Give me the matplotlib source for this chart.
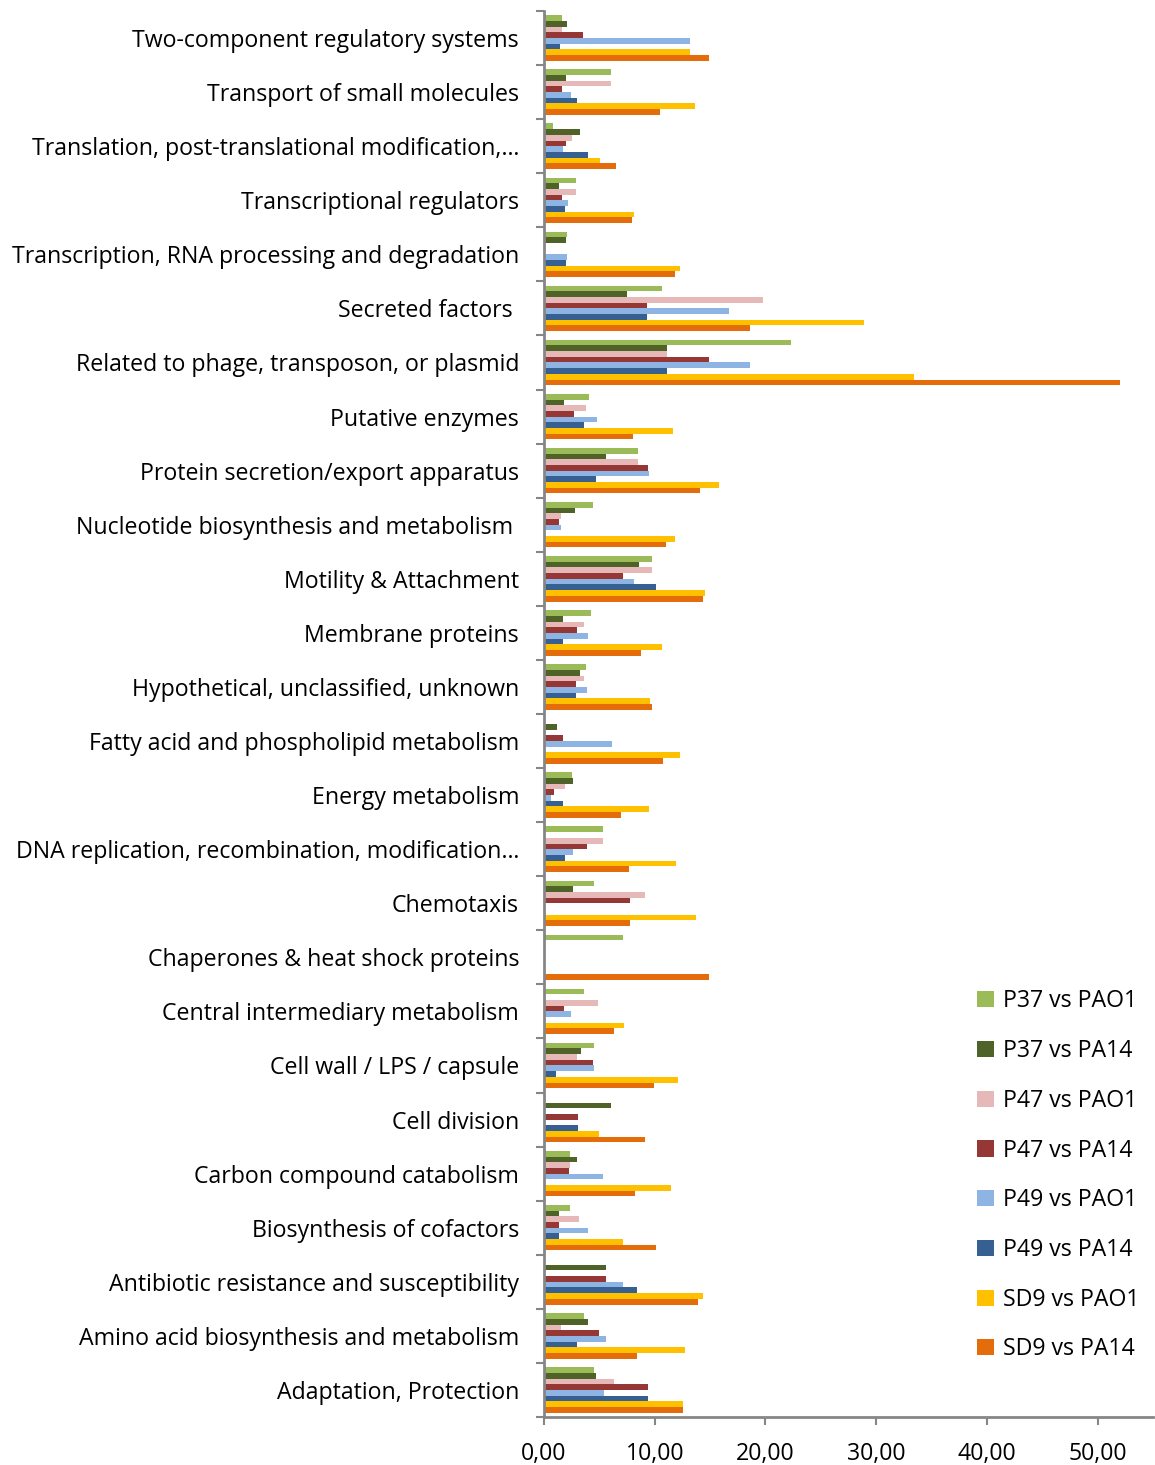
import numpy as np
import matplotlib
matplotlib.use('Agg')
import matplotlib.pyplot as plt
from matplotlib.patches import Patch

plt.rcParams['font.family'] = ['Open Sans', 'DejaVu Sans']

# categories listed bottom -> top (as drawn)
CATEGORIES = [
    'Adaptation, Protection',
    'Amino acid biosynthesis and metabolism',
    'Antibiotic resistance and susceptibility',
    'Biosynthesis of cofactors',
    'Carbon compound catabolism',
    'Cell division',
    'Cell wall / LPS / capsule',
    'Central intermediary metabolism',
    'Chaperones & heat shock proteins',
    'Chemotaxis',
    'DNA replication, recombination, modification\u2026',
    'Energy metabolism',
    'Fatty acid and phospholipid metabolism',
    'Hypothetical, unclassified, unknown',
    'Membrane proteins',
    'Motility & Attachment',
    'Nucleotide biosynthesis and metabolism ',
    'Protein secretion/export apparatus',
    'Putative enzymes',
    'Related to phage, transposon, or plasmid',
    'Secreted factors ',
    'Transcription, RNA processing and degradation',
    'Transcriptional regulators',
    'Translation, post-translational modification,\u2026',
    'Transport of small molecules',
    'Two-component regulatory systems',
]

SERIES = ['P37 vs PAO1', 'P37 vs PA14', 'P47 vs PAO1', 'P47 vs PA14',
          'P49 vs PAO1', 'P49 vs PA14', 'SD9 vs PAO1', 'SD9 vs PA14']

COLORS = ['#9BBB59', '#4F6228', '#E6B9B8', '#953735',
          '#8EB4E3', '#376092', '#FFC000', '#E46C0A']

# values per series, same order as CATEGORIES
p37_pao1 = [4.49, 3.58, 0.00, 2.38, 2.32, 0.00, 4.52, 3.64, 7.17, 4.55, 5.30, 2.56, 0.00,
            3.79, 4.28, 9.73, 4.46, 8.46, 4.03, 22.28, 10.66, 2.08, 2.89, 0.84, 6.05, 1.66]
p37_pa14 = [4.70, 3.94, 5.60, 1.36, 2.95, 6.08, 3.31, 0.00, 0.00, 2.59, 0.00, 2.65, 1.14,
            3.22, 1.72, 8.61, 2.77, 5.63, 1.78, 11.14, 7.47, 1.99, 1.33, 3.25, 2.02, 2.11]
p47_pao1 = [6.29, 1.54, 0.00, 3.16, 2.32, 0.00, 3.01, 4.85, 0.00, 9.12, 5.30, 1.90, 0.00,
            3.61, 3.61, 9.73, 1.51, 8.46, 3.76, 11.14, 19.75, 0.00, 2.89, 2.50, 6.05, 1.66]
p47_pa14 = [9.43, 4.97, 5.60, 1.36, 2.26, 3.07, 4.43, 1.81, 0.00, 7.74, 3.85, 0.90, 1.69,
            2.86, 2.95, 7.17, 1.39, 9.39, 2.68, 14.87, 9.30, 0.00, 1.60, 1.96, 1.66, 3.55]
p49_pao1 = [5.39, 5.60, 7.17, 3.94, 5.36, 0.00, 4.52, 2.41, 0.00, 0.00, 2.65, 0.63, 6.14,
            3.85, 3.94, 8.10, 1.51, 9.52, 4.79, 18.58, 16.74, 2.08, 2.17, 1.72, 2.41, 13.19]
p49_pa14 = [9.43, 2.98, 8.37, 1.36, 0.00, 3.07, 1.11, 0.00, 0.00, 0.00, 1.93, 1.75, 0.00,
            2.86, 1.72, 10.09, 0.00, 4.70, 3.58, 11.14, 9.30, 1.99, 1.87, 3.94, 3.01, 1.45]
sd9_pao1 = [12.56, 12.74, 14.33, 7.11, 11.50, 5.00, 12.07, 7.26, 0.00, 13.70, 11.89, 9.49, 12.29,
            9.58, 10.66, 14.57, 11.83, 15.84, 11.62, 33.42, 28.88, 12.29, 8.16, 5.09, 13.61, 13.19]
sd9_pa14 = [12.56, 8.40, 13.94, 10.12, 8.19, 9.12, 9.94, 6.29, 14.87, 7.74, 7.65, 6.96, 10.72,
            9.76, 8.79, 14.33, 11.02, 14.09, 8.01, 52.00, 18.58, 11.83, 7.95, 6.53, 10.48, 14.87]

VALUES = [p37_pao1, p37_pa14, p47_pao1, p47_pa14, p49_pao1, p49_pa14, sd9_pao1, sd9_pa14]
XTICKS = [0, 10, 20, 30, 40, 50]
FS = 16.7

fig = plt.figure(figsize=(11.55, 14.65), dpi=100)
ax = fig.add_axes([544 / 1155, 1 - 1417 / 1465, (1153 - 544) / 1155, (1417 - 11) / 1465])

y = np.arange(len(CATEGORIES))
bh = 0.105
for i, (name, vals, c) in enumerate(zip(SERIES, VALUES, COLORS)):
    ax.barh(y + (3.5 - i) * bh, vals, height=bh, color=c, label=name, zorder=2)

ax.set_ylim(-0.5, len(CATEGORIES) - 0.5)
ax.set_xlim(0, 55)
ax.set_yticks(y)
ax.set_yticklabels(CATEGORIES, fontsize=FS)
ax.set_yticks(np.arange(-0.5, len(CATEGORIES), 1), minor=True)
ax.tick_params(axis='y', which='major', length=0, pad=18)
ax.tick_params(axis='y', which='minor', length=6, width=1.5, color='#868686')
ax.set_xticks(XTICKS)
ax.set_xticklabels([f'{v:.2f}'.replace('.', ',') for v in XTICKS], fontsize=FS)
ax.tick_params(axis='x', length=6, width=1.5, color='#868686', pad=12)

for s in ['top', 'right']:
    ax.spines[s].set_visible(False)
for s in ['left', 'bottom']:
    ax.spines[s].set_color('#868686')
    ax.spines[s].set_linewidth(2)

handles = [Patch(facecolor=c, label=n) for n, c in zip(SERIES, COLORS)]
fig.legend(handles=handles, loc='upper left',
           bbox_to_anchor=(968 / 1155, 1 - 980 / 1465),
           frameon=False, fontsize=FS, handlelength=0.7, handleheight=0.7,
           handletextpad=0.4, labelspacing=1.11, borderaxespad=0)

fig.savefig('out.png', dpi=100)
